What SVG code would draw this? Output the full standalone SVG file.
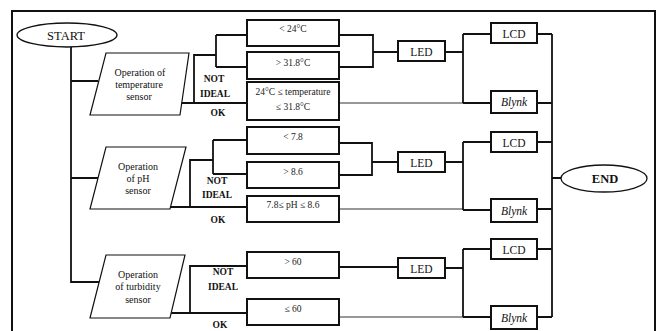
<svg xmlns="http://www.w3.org/2000/svg" width="658" height="331" viewBox="0 0 658 331">
<style>
.box{fill:#fff;stroke:#111;stroke-width:2}
.term{fill:#fff;stroke:#111;stroke-width:1.3}
.para{fill:#fff;stroke:#111;stroke-width:1.2}
.ln{fill:none;stroke:#111;stroke-width:1.8}
.thin{fill:none;stroke:#333;stroke-width:1.1}
.t{font-family:"Liberation Serif",serif;font-size:9.5px;fill:#222;text-anchor:middle}
.p{font-family:"Liberation Serif",serif;font-size:10px;fill:#111;text-anchor:middle}
.d{font-family:"Liberation Serif",serif;font-size:11.5px;fill:#111;text-anchor:middle}
.l{font-family:"Liberation Serif",serif;font-size:9.5px;font-weight:bold;fill:#111;text-anchor:middle}
.e{font-family:"Liberation Serif",serif;font-size:12.5px;fill:#111;text-anchor:middle}
</style>
<rect x="0" y="0" width="658" height="331" fill="#fff"/>
<rect x="12" y="11" width="643" height="330" fill="none" stroke="#111" stroke-width="2"/>
<g id="connectors">
<path class="ln" d="M71 47V282H99M71 81H98M71 178H98"/>
<path class="ln" d="M178 103H247M194 103V55H216M216 35V67M216 35H247M216 67H247"/>
<path class="ln" d="M339 35H373V67H339M373 52H398"/>
<path class="thin" d="M339 103H463"/>
<path class="ln" d="M445 52H463M463 34V103M463 34H491M463 103H491"/>
<path class="ln" d="M537 34H552M537 103H552M552 34V317M552 178H561"/>
<path class="ln" d="M170 207H247M190 207V160H213M213 140V174M213 140H247M213 174H247"/>
<path class="ln" d="M339 143H372V175H339M372 162H398"/>
<path class="thin" d="M339 209H463"/>
<path class="ln" d="M445 162H463M463 142V210M463 142H491M463 210H491"/>
<path class="ln" d="M537 142H552M537 209H552"/>
<path class="ln" d="M168 313H247M190 313V266H247M339 267H398"/>
<path class="thin" d="M339 317H463"/>
<path class="ln" d="M445 268H463M463 249V317M463 249H491M463 317H491"/>
<path class="ln" d="M537 249H552M537 317H552"/>
</g>
<g id="start"><ellipse class="term" cx="67" cy="35" rx="50" ry="12"/><text class="e" x="66" y="39.5">START</text></g>
<g id="end"><ellipse class="term" cx="604" cy="178.5" rx="43" ry="13.5"/><text class="e" x="605" y="183" font-weight="bold">END</text></g>
<g id="temp-sensor"><polygon class="para" points="106,53 189,53 180,115 90,115"/>
<text class="p" x="140" y="76">Operation of</text><text class="p" x="139" y="88">temperature</text><text class="p" x="139" y="100">sensor</text></g>
<g id="ph-sensor"><polygon class="para" points="106,147 186,147 170,209 90,209"/>
<text class="p" x="138" y="170">Operation</text><text class="p" x="138" y="182">of pH</text><text class="p" x="138" y="194">sensor</text></g>
<g id="turb-sensor"><polygon class="para" points="106,255 185,255 170,318 90,318"/>
<text class="p" x="138" y="278">Operation</text><text class="p" x="138" y="290">of turbidity</text><text class="p" x="138" y="303">sensor</text></g>
<g id="labels">
<text class="l" x="214" y="82">NOT</text><text class="l" x="215" y="97">IDEAL</text><text class="l" x="218" y="116">OK</text>
<text class="l" x="217" y="184">NOT</text><text class="l" x="217" y="198">IDEAL</text><text class="l" x="218" y="223">OK</text>
<text class="l" x="223" y="275">NOT</text><text class="l" x="223" y="290">IDEAL</text><text class="l" x="220" y="328">OK</text>
</g>
<g id="t-low"><rect class="box" x="247" y="20" width="92" height="26"/><text class="t" x="293" y="32">&lt; 24°C</text></g>
<g id="t-high"><rect class="box" x="247" y="52" width="92" height="27"/><text class="t" x="293" y="66">&gt; 31.8°C</text></g>
<g id="t-ok"><rect class="box" x="247" y="82" width="92" height="38"/><text class="t" x="293" y="95">24°C ≤ temperature</text><text class="t" x="293" y="110">≤ 31.8°C</text></g>
<g id="p-low"><rect class="box" x="247" y="127" width="92" height="27"/><text class="t" x="293" y="140">&lt; 7.8</text></g>
<g id="p-high"><rect class="box" x="247" y="162" width="92" height="26"/><text class="t" x="293" y="175">&gt; 8.6</text></g>
<g id="p-ok"><rect class="box" x="247" y="196" width="92" height="26"/><text class="t" x="293" y="208">7.8≤ pH ≤ 8.6</text></g>
<g id="u-high"><rect class="box" x="247" y="252" width="92" height="26"/><text class="t" x="293" y="265">&gt; 60</text></g>
<g id="u-ok"><rect class="box" x="247" y="299" width="92" height="26"/><text class="t" x="293" y="312">≤ 60</text></g>
<g id="led1"><rect class="box" x="398" y="41" width="47" height="20"/><text class="d" x="421.5" y="55.5">LED</text></g>
<g id="led2"><rect class="box" x="398" y="152" width="47" height="20"/><text class="d" x="421.5" y="166.5">LED</text></g>
<g id="led3"><rect class="box" x="398" y="258" width="47" height="20"/><text class="d" x="421.5" y="272.5">LED</text></g>
<g id="lcd1"><rect class="box" x="491" y="23" width="46" height="20"/><text class="d" x="514" y="37.5">LCD</text></g>
<g id="lcd2"><rect class="box" x="491" y="132" width="46" height="20"/><text class="d" x="514" y="146.5">LCD</text></g>
<g id="lcd3"><rect class="box" x="491" y="239" width="46" height="20"/><text class="d" x="514" y="253.5">LCD</text></g>
<g id="blynk1"><rect class="box" x="491" y="91" width="46" height="22"/><text class="d" x="514" y="106" font-style="italic">Blynk</text></g>
<g id="blynk2"><rect class="box" x="491" y="199" width="46" height="23"/><text class="d" x="514" y="214.5" font-style="italic">Blynk</text></g>
<g id="blynk3"><rect class="box" x="491" y="306" width="46" height="23"/><text class="d" x="514" y="321.5" font-style="italic">Blynk</text></g>
</svg>
